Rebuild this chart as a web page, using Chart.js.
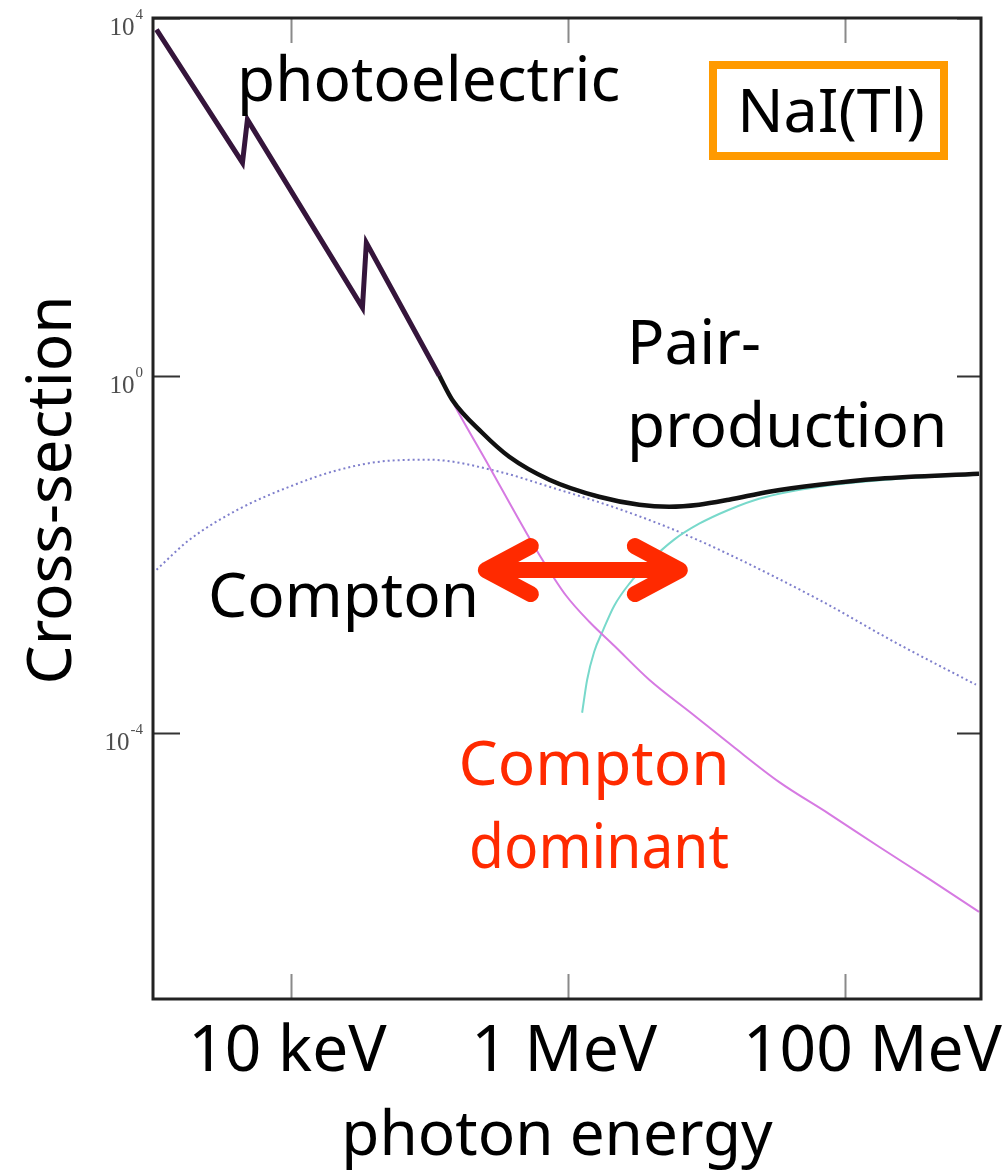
<!DOCTYPE html>
<html>
<head>
<meta charset="utf-8">
<script src="https://cdn.jsdelivr.net/npm/chart.js@4/dist/chart.umd.min.js"></script>
<style>
  html, body { margin: 0; padding: 0; background: #fff; }
  #wrap { width: 1008px; height: 1172px; }
</style>
</head>
<body>
<div id="wrap"><canvas id="c" width="1008" height="1172"></canvas></div>
<script>
// Photon interaction cross-sections in NaI(Tl); energies in MeV.
// The first six points of the total / photoelectric curves carry the L and K absorption edges.
const energyTotal = [0.00106, 0.00443, 0.00481, 0.0326, 0.0348, 0.117, 0.145, 0.239, 0.375, 0.730, 1.67, 3.26, 5.36, 8.83, 14.5, 28.2, 64.9, 176, 929];
const sigmaTotal  = [7410, 241, 731, 5.77, 30.7, 1.0, 0.539, 0.230, 0.124, 0.0687, 0.0443, 0.0361, 0.0343, 0.0361, 0.0410, 0.0504, 0.0604, 0.0705, 0.0801];

const energyPhoto = [0.00106, 0.00443, 0.00481, 0.0326, 0.0348, 0.117, 0.145, 0.269, 0.498, 0.671, 0.967, 1.42, 2.15, 3.85, 7.85, 15.3, 33.3, 76.6, 176, 404, 929];
const sigmaPhoto  = [7410, 241, 731, 5.77, 30.7, 1.0, 0.52, 0.0959, 0.01754, 0.00809, 0.00346, 0.00177, 0.000955, 0.000398, 0.0001656, 7.26e-5, 2.87e-5, 1.26e-5, 5.39e-6, 2.36e-6, 1.01e-6];

const energyCompton = [0.00106, 0.001837, 0.00422, 0.00968, 0.0222, 0.0511, 0.0991, 0.318, 0.730, 2.08, 5.11, 12.3, 64.9, 233, 883];
const sigmaCompton  = [0.00676, 0.01465, 0.0325, 0.0573, 0.0889, 0.112, 0.1148, 0.0843, 0.0573, 0.0343, 0.0205, 0.01132, 0.00312, 0.00103, 0.00035];

const energyPair = [1.26, 1.37, 1.54, 1.79, 2.15, 2.76, 3.85, 5.82, 8.83, 14.5, 23.9, 64.9, 245, 929];
const sigmaPair  = [0.000170, 0.000398, 0.000818, 0.00144, 0.00268, 0.00471, 0.00830, 0.01466, 0.0221, 0.0317, 0.0421, 0.0573, 0.0705, 0.0781];

// Axis ticks
const xTickValues = [0.01, 1, 100];
const xTickLabels = ['10 keV', '1 MeV', '100 MeV'];
const yTickValues = [1e4, 1, 1e-4];
const yTickExponents = ['4', '0', '-4'];

const xTitle = 'photon energy';
const yTitle = 'Cross-section';

const EDGE_POINTS = 6; // points up to the end of the edge structure

const SANS = '"Noto Sans", "Open Sans", sans-serif';
const SERIF = '"Liberation Serif", "DejaVu Serif", serif';

function pairs(xs, ys) { return xs.map((x, i) => ({ x: x, y: ys[i] })); }

function text(ctx, s, x, y, size, color, align, maxWidth) {
  ctx.save();
  ctx.font = size + 'px ' + SANS;
  ctx.fillStyle = color;
  ctx.textAlign = align || 'left';
  ctx.textBaseline = 'alphabetic';
  if (maxWidth) ctx.fillText(s, x, y, maxWidth); else ctx.fillText(s, x, y);
  ctx.restore();
}

// Frame, inward ticks, axis labels
const axesPlugin = {
  id: 'axesFrame',
  afterDraw(chart) {
    const ctx = chart.ctx;
    const a = chart.chartArea;
    const xs = chart.scales.x, ys = chart.scales.y;

    ctx.save();
    ctx.lineWidth = 2;
    ctx.strokeStyle = '#8a8a8a';
    xTickValues.forEach(v => {
      const px = Math.round(xs.getPixelForValue(v)) + 0.5;
      ctx.beginPath();
      ctx.moveTo(px, a.bottom); ctx.lineTo(px, a.bottom - 25);
      ctx.moveTo(px, a.top); ctx.lineTo(px, a.top + 25);
      ctx.stroke();
    });
    ctx.strokeStyle = '#333';
    yTickValues.forEach(v => {
      const py = Math.round(ys.getPixelForValue(v)) + 0.5;
      ctx.beginPath();
      ctx.moveTo(a.left, py); ctx.lineTo(a.left + 27, py);
      ctx.moveTo(a.right, py); ctx.lineTo(a.right - 24, py);
      ctx.stroke();
    });
    ctx.lineWidth = 3;
    ctx.strokeStyle = '#222';
    ctx.strokeRect(a.left, a.top, a.right - a.left, a.bottom - a.top);

    // y tick labels: 10 with a superscript exponent
    ctx.fillStyle = '#4d4d4d';
    ctx.textBaseline = 'alphabetic';
    ctx.textAlign = 'left';
    yTickValues.forEach((v, i) => {
      const py = ys.getPixelForValue(v);
      const right = a.left - 10;
      ctx.font = '15px ' + SERIF;
      const we = ctx.measureText(yTickExponents[i]).width;
      ctx.font = '25px ' + SERIF;
      const wb = ctx.measureText('10').width;
      ctx.fillText('10', right - we - wb - 1, py + 17);
      ctx.font = '15px ' + SERIF;
      ctx.fillText(yTickExponents[i], right - we, py + 1);
    });

    // x tick labels; the last one is kept inside the canvas edge
    ctx.font = '64px ' + SANS;
    ctx.fillStyle = '#000';
    xTickValues.forEach((v, i) => {
      if (i === xTickValues.length - 1) {
        ctx.textAlign = 'right';
        ctx.fillText(xTickLabels[i], chart.width - 6, 1071);
      } else {
        ctx.textAlign = 'center';
        ctx.fillText(xTickLabels[i], xs.getPixelForValue(v) - 4, 1071);
      }
    });

    // axis titles
    ctx.font = '62px ' + SANS;
    ctx.textAlign = 'center';
    ctx.fillText(xTitle, 557, 1155);
    ctx.save();
    ctx.translate(71, 490);
    ctx.rotate(-Math.PI / 2);
    ctx.fillText(yTitle, 0, 0);
    ctx.restore();
    ctx.restore();
  }
};

// Process labels, material box and the Compton-dominant arrow
const notesPlugin = {
  id: 'notes',
  afterDraw(chart) {
    const ctx = chart.ctx;
    text(ctx, 'photoelectric', 237, 101, 62, '#000');
    text(ctx, 'Pair-', 627, 364, 62, '#000');
    text(ctx, 'production', 627, 447, 62, '#000');
    text(ctx, 'Compton', 208, 617, 62, '#000');
    text(ctx, 'Compton', 594, 785, 62, '#ff2a00', 'center');
    text(ctx, 'dominant', 599, 868, 62, '#ff2a00', 'center', 260);

    ctx.save();
    ctx.lineWidth = 8;
    ctx.strokeStyle = '#ff9a00';
    ctx.strokeRect(713, 65, 231, 91);
    ctx.restore();
    text(ctx, 'NaI(Tl)', 831, 132, 61, '#000', 'center');

    // double arrow spanning the Compton-dominant energies
    const xs = chart.scales.x, ys = chart.scales.y;
    const y = ys.getPixelForValue(0.0067);
    const x1 = xs.getPixelForValue(0.254), x2 = xs.getPixelForValue(6.4);
    ctx.save();
    ctx.strokeStyle = '#ff2a00';
    ctx.lineWidth = 16;
    ctx.lineCap = 'round';
    ctx.lineJoin = 'round';
    ctx.beginPath();
    ctx.moveTo(x1, y); ctx.lineTo(x2, y);
    ctx.moveTo(x1 + 45, y - 24); ctx.lineTo(x1, y); ctx.lineTo(x1 + 45, y + 24);
    ctx.moveTo(x2 - 45, y - 24); ctx.lineTo(x2, y); ctx.lineTo(x2 - 45, y + 24);
    ctx.stroke();
    ctx.restore();
  }
};

const straight = { showLine: true, pointRadius: 0, pointHoverRadius: 0, fill: false, tension: 0 };
const smooth = Object.assign({}, straight, { cubicInterpolationMode: 'monotone' });

const TOTAL_EDGE = '#35153b', TOTAL = '#111';
const PHOTO = '#d67ae2';

new Chart(document.getElementById('c'), {
  type: 'scatter',
  data: {
    datasets: [
      Object.assign({}, straight, {
        label: 'total', order: 0, borderColor: TOTAL_EDGE, borderWidth: 5,
        data: pairs(energyTotal.slice(0, EDGE_POINTS), sigmaTotal.slice(0, EDGE_POINTS))
      }),
      Object.assign({}, smooth, {
        label: 'total', order: 0, borderColor: TOTAL, borderWidth: 4.5,
        data: pairs(energyTotal.slice(EDGE_POINTS - 1), sigmaTotal.slice(EDGE_POINTS - 1))
      }),
      Object.assign({}, straight, {
        label: 'photoelectric', order: 1, borderColor: PHOTO, borderWidth: 2,
        data: pairs(energyPhoto.slice(0, EDGE_POINTS), sigmaPhoto.slice(0, EDGE_POINTS))
      }),
      Object.assign({}, smooth, {
        label: 'photoelectric', order: 1, borderColor: PHOTO, borderWidth: 2,
        data: pairs(energyPhoto.slice(EDGE_POINTS - 1), sigmaPhoto.slice(EDGE_POINTS - 1))
      }),
      Object.assign({}, smooth, {
        label: 'pair production', order: 2, borderColor: '#78d9cb', borderWidth: 2,
        data: pairs(energyPair, sigmaPair)
      }),
      Object.assign({}, smooth, {
        label: 'Compton', order: 3, borderColor: 'rgba(105,105,195,0.85)', borderWidth: 2,
        borderDash: [2, 3], data: pairs(energyCompton, sigmaCompton)
      })
    ]
  },
  options: {
    responsive: false,
    animation: false,
    devicePixelRatio: 1,
    layout: { padding: { left: 153, top: 18, right: 27, bottom: 173 } },
    plugins: { legend: { display: false }, tooltip: { enabled: false } },
    scales: {
      x: { type: 'logarithmic', min: 0.001, max: 960, display: false },
      y: { type: 'logarithmic', min: 1.07e-7, max: 1e4, display: false }
    }
  },
  plugins: [axesPlugin, notesPlugin]
});
</script>
</body>
</html>
